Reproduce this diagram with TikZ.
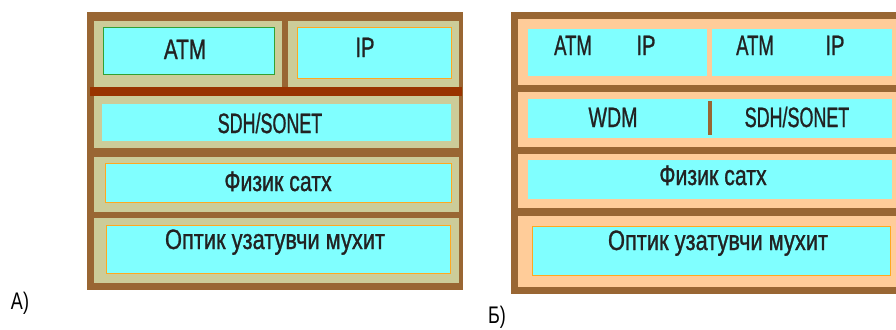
\documentclass[tikz,border=0pt]{standalone}
\usepackage{fontspec}
\usepackage{graphicx}
\setmainfont{Liberation Sans}
\newfontfamily\lblfont[FakeBold=1.2]{Liberation Sans}
\definecolor{frame}{HTML}{996633}
\definecolor{beige}{HTML}{CCCC99}
\definecolor{peach}{HTML}{FFCC99}
\definecolor{cyanb}{HTML}{80FFFF}
\definecolor{rbar}{HTML}{993300}
\definecolor{gbord}{HTML}{33A033}
\definecolor{obord}{HTML}{FFA820}
\definecolor{txt}{HTML}{222222}
\newcommand\lb[2]{\scalebox{#1}[1]{#2}}
\tikzset{
  lbl/.style={anchor=base, inner sep=0pt, text=txt, font=\lblfont\fontsize{21}{21}\selectfont},
  captxt/.style={anchor=base, inner sep=0pt, text=black, font=\fontsize{18}{18}\selectfont},
}
\begin{document}
\begin{tikzpicture}[x=0.75pt,y=-0.75pt]
\useasboundingbox (0,0) rectangle (896,329);
\clip (0,0) rectangle (896,329);
% ---------- left diagram ----------
\fill[frame] (87,12) rectangle (463,290);
\fill[beige] (94,21) rectangle (282,87);
\fill[beige] (288,21) rectangle (459,87);
\fill[rbar] (90,87) rectangle (462,96);
\fill[beige] (94,96) rectangle (459,148);
\fill[beige] (94,157) rectangle (459,212);
\fill[beige] (94,218) rectangle (459,283);
\draw[fill=cyanb, draw=gbord, line width=0.75pt] (103,27) rectangle (274,74);
\draw[fill=cyanb, draw=obord, line width=0.75pt] (297,27) rectangle (451,78);
\fill[cyanb] (102,104) rectangle (451,141);
\draw[fill=cyanb, draw=obord, line width=0.75pt] (105,163) rectangle (451,202);
\draw[fill=cyanb, draw=obord, line width=0.75pt] (106,225) rectangle (450,273);
\node[lbl] (l-atm) at (185,59) {\lb{0.74}{ATM}};
\node[lbl] (l-ip) at (365,57) {\lb{0.72}{IP}};
\node[lbl] (l-sdh) at (270,133) {\lb{0.64}{SDH/SONET}};
\node[lbl] (l-phys) at (278,191) {\lb{0.76}{Физик сатх}};
\node[lbl] (l-opt) at (275,249) {\lb{0.78}{Оптик узатувчи мухит}};
\node[captxt] (capA) at (20,309) {\lb{0.75}{А)}};
% ---------- right diagram ----------
\fill[frame] (511,12) rectangle (905,294);
\fill[peach] (518,19) rectangle (905,85);
\fill[peach] (518,92) rectangle (905,147);
\fill[peach] (518,154) rectangle (905,208);
\fill[peach] (518,216) rectangle (905,287);
\fill[cyanb] (528,29) rectangle (707,76);
\fill[cyanb] (712,29) rectangle (892,76);
\fill[cyanb] (528,99) rectangle (892,138);
\fill[frame] (708,101) rectangle (712,135);
\fill[cyanb] (528,160) rectangle (892,199);
\draw[fill=cyanb, draw=obord, line width=0.75pt] (532,226) rectangle (890,275);
\node[lbl] (r-atm1) at (573,55) {\lb{0.66}{ATM}};
\node[lbl] (r-ip1) at (646,55) {\lb{0.72}{IP}};
\node[lbl] (r-atm2) at (755,55) {\lb{0.66}{ATM}};
\node[lbl] (r-ip2) at (835,55) {\lb{0.72}{IP}};
\node[lbl] (r-wdm) at (613,127) {\lb{0.70}{WDM}};
\node[lbl] (r-sdh) at (797,127) {\lb{0.64}{SDH/SONET}};
\node[lbl] (r-phys) at (713,185) {\lb{0.76}{Физик сатх}};
\node[lbl] (r-opt) at (718,250) {\lb{0.78}{Оптик узатувчи мухит}};
\node[captxt] (capB) at (497,323) {\lb{0.75}{Б)}};
\end{tikzpicture}
\end{document}
